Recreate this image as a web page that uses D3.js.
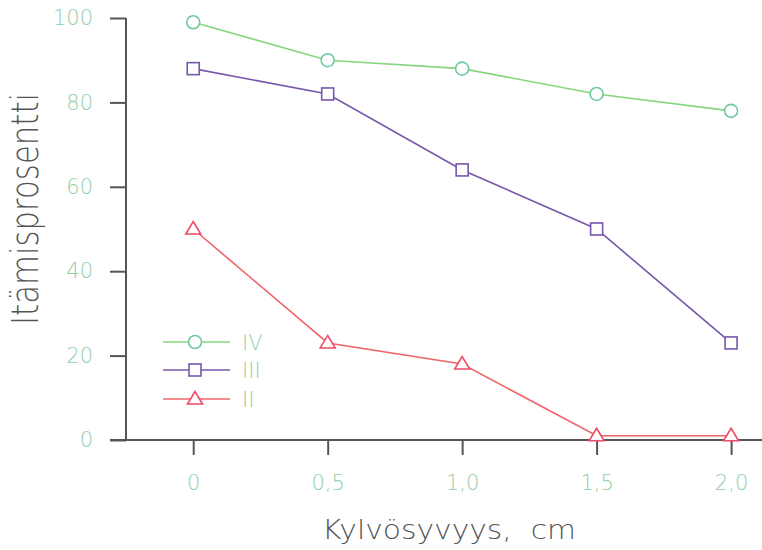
<!DOCTYPE html>
<html>
<head>
<meta charset="utf-8">
<script src="https://cdn.jsdelivr.net/npm/d3@7"></script>
<style>
  body { margin: 0; background: #fff; }
  text { font-family: "DejaVu Sans", sans-serif; font-weight: 200; }
</style>
</head>
<body>
<script>
// data
var depths = [0, 0.5, 1.0, 1.5, 2.0];
var depthLabels = ["0", "0,5", "1,0", "1,5", "2,0"];
var yTicks = [0, 20, 40, 60, 80, 100];
var seriesNames = ["IV", "III", "II"];
var valuesIV = [99, 90, 88, 82, 78];
var valuesIII = [88, 82, 64, 50, 23];
var valuesII = [50, 23, 18, 1, 1];

var width = 762, height = 550;

var svg = d3.select("body").append("svg")
    .attr("width", width)
    .attr("height", height);

// scales
var x = d3.scaleLinear().domain([-0.25, 2.115]).range([126, 762]);
var y = d3.scaleLinear().domain([0, 100]).range([440, 18]);

var tickCol = "#8fcfa6", axisCol = "#555";

// y axis
var yAxis = svg.append("g")
    .attr("transform", "translate(126,0)")
    .call(d3.axisLeft(y).tickValues(yTicks).tickSize(16).tickPadding(17).tickSizeOuter(0));
yAxis.select(".domain").attr("stroke", axisCol).attr("stroke-width", 2)
    .attr("d", "M0," + y(100) + "V" + y(0));
yAxis.selectAll(".tick line").attr("stroke", axisCol).attr("stroke-width", 2);
yAxis.selectAll(".tick text").attr("fill", tickCol).attr("font-size", 21)
    .style("font-family", "'DejaVu Sans', sans-serif").style("font-weight", 200);

// x axis
var xAxis = svg.append("g")
    .attr("transform", "translate(0,440)")
    .call(d3.axisBottom(x).tickValues(depths)
      .tickFormat(function(d, i) { return depthLabels[i]; })
      .tickSize(15).tickPadding(20).tickSizeOuter(0));
xAxis.select(".domain").attr("stroke", axisCol).attr("stroke-width", 2)
    .attr("d", "M110,0H762");
xAxis.selectAll(".tick line").attr("stroke", axisCol).attr("stroke-width", 2);
xAxis.selectAll(".tick text").attr("fill", tickCol).attr("font-size", 21)
    .style("font-family", "'DejaVu Sans', sans-serif").style("font-weight", 200);

// axis titles
svg.append("text")
    .attr("x", 322).attr("y", 539)
    .attr("fill", axisCol).attr("font-size", 27)
    .attr("textLength", 254).attr("lengthAdjust", "spacingAndGlyphs")
    .style("white-space", "pre")
    .text("Kylvösyvyys,  cm");

svg.append("text")
    .attr("transform", "translate(38,325) rotate(-90)")
    .attr("fill", axisCol).attr("font-size", 37)
    .attr("textLength", 232).attr("lengthAdjust", "spacingAndGlyphs")
    .text("Itämisprosentti");

// series
var series = [
  {name: seriesNames[0], values: valuesIV, color: "#86d67e", mark: "#6fc9a0", shape: "circle"},
  {name: seriesNames[1], values: valuesIII, color: "#7756ab", mark: "#7756ab", shape: "square"},
  {name: seriesNames[2], values: valuesII, color: "#f0646a", mark: "#ee4a66", shape: "triangle"}
];

var line = d3.line()
    .x(function(d, i) { return x(depths[i]); })
    .y(function(d) { return y(d); });

function drawMark(g, shape, cx, cy, col) {
  if (shape === "circle") {
    g.append("circle").attr("cx", cx).attr("cy", cy).attr("r", 6.5)
      .attr("fill", "#fff").attr("stroke", col).attr("stroke-width", 1.6);
  } else if (shape === "square") {
    g.append("rect").attr("x", cx - 6).attr("y", cy - 6).attr("width", 12).attr("height", 12)
      .attr("fill", "#fff").attr("stroke", col).attr("stroke-width", 1.6);
  } else {
    g.append("path")
      .attr("d", "M" + cx + "," + (cy - 7.5) + "L" + (cx + 7.5) + "," + (cy + 5) + "L" + (cx - 7.5) + "," + (cy + 5) + "Z")
      .attr("fill", "#fff").attr("stroke", col).attr("stroke-width", 1.6);
  }
}

series.forEach(function(s) {
  var g = svg.append("g");
  g.append("path")
      .datum(s.values)
      .attr("fill", "none")
      .attr("stroke", s.color)
      .attr("stroke-width", 1.6)
      .attr("d", line);
  s.values.forEach(function(v, i) {
    drawMark(g, s.shape, x(depths[i]), y(v), s.mark);
  });
});

// legend
var legendY = [342, 370, 399];
series.forEach(function(s, i) {
  var g = svg.append("g");
  g.append("line")
      .attr("x1", 163).attr("x2", 230)
      .attr("y1", legendY[i]).attr("y2", legendY[i])
      .attr("stroke", s.color).attr("stroke-width", 1.6);
  drawMark(g, s.shape, 195, legendY[i], s.mark);
  g.append("text")
      .attr("x", 242).attr("y", legendY[i] + 8)
      .attr("fill", tickCol).attr("font-size", 21)
      .text(s.name);
});
</script>
</body>
</html>
